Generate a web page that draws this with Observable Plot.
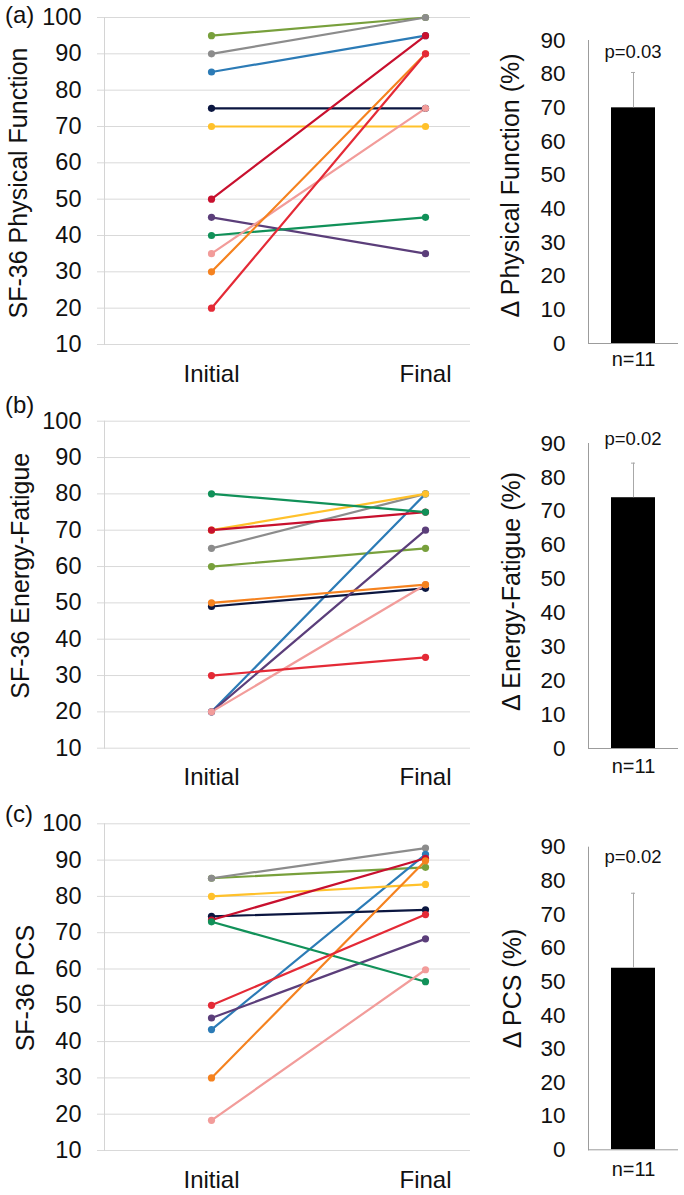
<!DOCTYPE html>
<html>
<head>
<meta charset="utf-8">
<script src="https://cdn.jsdelivr.net/npm/d3@7"></script>
<script src="https://cdn.jsdelivr.net/npm/@observablehq/plot@0.6"></script>
<style>
  html, body { margin: 0; padding: 0; background: #fff; }
  #root { position: relative; width: 684px; height: 1195px; overflow: hidden; font-family: "Liberation Sans", Arial, Helvetica, sans-serif; color: #111; }
  .abs { position: absolute; }
  .plabel { font-size: 24px; line-height: 24px; }
</style>
</head>
<body>
<div id="root"></div>
<script>
// ---------- data ----------
const patients = ["P1","P2","P3","P4","P5","P6","P7","P8","P9","P10","P11"];
const patientColors = ["#78A03C","#8C8C8C","#2C7BB6","#0B1640","#FFC12B","#C8102E","#5B3E7A","#119159","#F29C9A","#F5821F","#E42A36"];
const timepoints = ["Initial","Final"];

const physInitial = [95, 90, 85, 75, 70, 50, 45, 40, 35, 30, 20];
const physFinal   = [100, 100, 95, 75, 70, 95, 35, 45, 75, 90, 90];

const energyInitial = [60, 65, 20, 49, 70, 70, 20, 80, 20, 50, 30];
const energyFinal   = [65, 80, 80, 54, 80, 75, 70, 75, 55, 55, 35];

const pcsInitial = [85, 85, 43.3, 74.5, 80, 73.5, 46.5, 73, 18.3, 30, 50];
const pcsFinal   = [88, 93.3, 91.6, 76.3, 83.3, 90.5, 68.3, 56.5, 59.8, 89.8, 75];

const lineTicks = [10, 20, 30, 40, 50, 60, 70, 80, 90, 100];
const barTicks = [0, 10, 20, 30, 40, 50, 60, 70, 80, 90];

const barCategory = ["n=11"];
const deltaMeans = [70, 74, 54];
const deltaErrors = [10.5, 10.2, 22.3];
const pValues = ["p=0.03", "p=0.02", "p=0.02"];

const lineTitles = ["SF-36 Physical Function", "SF-36 Energy-Fatigue", "SF-36 PCS"];
const barTitles = ["\u0394 Physical Function (%)", "\u0394 Energy-Fatigue (%)", "\u0394 PCS (%)"];
const panelLetters = ["(a)", "(b)", "(c)"];

// ---------- layout ----------
const FONT = '"Liberation Sans", Arial, Helvetica, sans-serif';
const panels = [
  {top: 0,   height: 395, lineMT: 17,   lineMB: 51,   barMT: 40,   barMB: 52,   titleDx: -86, titleDy: 2,  barTitleDx: -78, barTitleDy: -6.5, pDy: 12, letterTop: 3,  nPad: 8},
  {top: 395, height: 395, lineMT: 25.7, lineMB: 42.3, barMT: 48,   barMB: 42,   titleDx: -84, titleDy: -9, barTitleDx: -77, barTitleDy: -4.5, pDy: -4, letterTop: 393, nPad: 10},
  {top: 790, height: 405, lineMT: 33.3, lineMB: 45,   barMT: 56.7, barMB: 45.7, titleDx: -79, titleDy: 1,  barTitleDx: -76, barTitleDy: -10, pDy: 10, letterTop: 802, nPad: 12}
];
const lineSeries = [[physInitial, physFinal], [energyInitial, energyFinal], [pcsInitial, pcsFinal]];

const root = document.getElementById("root");

panels.forEach((p, k) => {
  const [ini, fin] = lineSeries[k];
  const data = [];
  patients.forEach((s, i) => {
    data.push({s, t: timepoints[0], v: ini[i]});
    data.push({s, t: timepoints[1], v: fin[i]});
  });

  const line = Plot.plot({
    width: 470, height: p.height,
    marginLeft: 104, marginRight: 0, marginTop: p.lineMT, marginBottom: p.lineMB,
    style: {fontFamily: FONT, background: "transparent", color: "#111", overflow: "visible"},
    x: {type: "point", domain: timepoints, padding: 0.355, align: 0.704},
    y: {domain: [10, 100]},
    color: {domain: patients, range: patientColors},
    marks: [
      Plot.gridY(lineTicks, {stroke: "#D9D9D9", strokeOpacity: 1, strokeWidth: 1, insetLeft: -7}),
      Plot.frame({anchor: "left", stroke: "#D4D4D4"}),
      Plot.axisY(lineTicks, {tickSize: 0, tickPadding: 23, fontSize: 23.5, label: null}),
      Plot.axisX({tickSize: 0, tickPadding: 20, fontSize: 24, label: null}),
      Plot.text([lineTitles[k]], {text: d => d, frameAnchor: "left", rotate: -90, dx: p.titleDx, dy: p.titleDy, fontSize: 25, textAnchor: "middle", lineAnchor: "middle"}),
      Plot.line(data, {x: "t", y: "v", z: "s", stroke: "s", strokeWidth: 2.2}),
      Plot.dot(data, {x: "t", y: "v", fill: "s", r: 3.6})
    ]
  });
  line.classList.add("abs");
  line.style.left = "0px";
  line.style.top = p.top + "px";
  root.appendChild(line);

  const barData = [{n: barCategory[0], v: deltaMeans[k], e: deltaErrors[k]}];
  const bar = Plot.plot({
    width: 204, height: p.height,
    marginLeft: 108, marginRight: 7, marginTop: p.barMT, marginBottom: p.barMB,
    style: {fontFamily: FONT, background: "transparent", color: "#111", overflow: "visible"},
    x: {type: "band", domain: barCategory, padding: 0.34},
    y: {domain: [0, 90]},
    marks: [
      Plot.barY(barData, {x: "n", y: "v", fill: "#000"}),
      Plot.ruleX(barData, {x: "n", y1: "v", y2: d => d.v + d.e, stroke: "#A8A8A8", strokeWidth: 1}),
      Plot.tickY(barData, {x: "n", y: d => d.v + d.e, stroke: "#A8A8A8", strokeWidth: 1, inset: 20}),
      Plot.frame({anchor: "left", stroke: "#9C9C9C"}),
      Plot.frame({anchor: "bottom", stroke: "#9C9C9C"}),
      Plot.axisY(barTicks, {tickSize: 0, tickPadding: 23, fontSize: 22.5, label: null}),
      Plot.axisX({tickSize: 0, tickPadding: p.nPad, fontSize: 20, label: null}),
      Plot.text([pValues[k]], {text: d => d, frameAnchor: "top", dy: p.pDy, fontSize: 18.5, lineAnchor: "middle"}),
      Plot.text([barTitles[k]], {text: d => d, frameAnchor: "left", rotate: -90, dx: p.barTitleDx, dy: p.barTitleDy, fontSize: 25, textAnchor: "middle", lineAnchor: "middle"})
    ]
  });
  bar.classList.add("abs");
  bar.style.left = "480px";
  bar.style.top = p.top + "px";
  root.appendChild(bar);

  const letter = document.createElement("div");
  letter.className = "abs plabel";
  letter.style.left = "5px";
  letter.style.top = p.letterTop + "px";
  letter.textContent = panelLetters[k];
  root.appendChild(letter);
});
</script>
</body>
</html>
